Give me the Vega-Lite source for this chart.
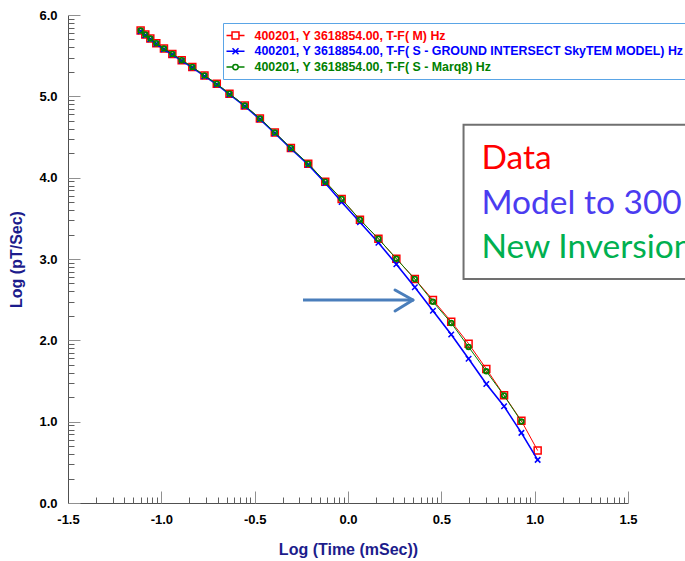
{
  "$schema": "https://vega.github.io/schema/vega-lite/v6.json",
  "width": 560,
  "height": 488,
  "autosize": {"type": "none"},
  "padding": {"left": 68, "top": 15, "right": 57, "bottom": 58},
  "background": "white",
  "config": {"view": {"stroke": null}, "axis": {"grid": false}},
  "data": {
    "values": [
      {"series": "T-F( M)", "t": -1.111, "v": 5.808},
      {"series": "T-F( M)", "t": -1.086, "v": 5.759},
      {"series": "T-F( M)", "t": -1.059, "v": 5.710},
      {"series": "T-F( M)", "t": -1.027, "v": 5.654},
      {"series": "T-F( M)", "t": -0.986, "v": 5.587},
      {"series": "T-F( M)", "t": -0.941, "v": 5.522},
      {"series": "T-F( M)", "t": -0.891, "v": 5.445},
      {"series": "T-F( M)", "t": -0.834, "v": 5.362},
      {"series": "T-F( M)", "t": -0.769, "v": 5.256},
      {"series": "T-F( M)", "t": -0.703, "v": 5.154},
      {"series": "T-F( M)", "t": -0.635, "v": 5.031},
      {"series": "T-F( M)", "t": -0.553, "v": 4.887},
      {"series": "T-F( M)", "t": -0.472, "v": 4.727},
      {"series": "T-F( M)", "t": -0.392, "v": 4.555},
      {"series": "T-F( M)", "t": -0.306, "v": 4.364},
      {"series": "T-F( M)", "t": -0.213, "v": 4.171},
      {"series": "T-F( M)", "t": -0.122, "v": 3.950},
      {"series": "T-F( M)", "t": -0.034, "v": 3.737},
      {"series": "T-F( M)", "t": 0.064, "v": 3.483},
      {"series": "T-F( M)", "t": 0.163, "v": 3.249},
      {"series": "T-F( M)", "t": 0.259, "v": 3.004},
      {"series": "T-F( M)", "t": 0.358, "v": 2.754},
      {"series": "T-F( M)", "t": 0.455, "v": 2.496},
      {"series": "T-F( M)", "t": 0.553, "v": 2.230},
      {"series": "T-F( M)", "t": 0.646, "v": 1.959},
      {"series": "T-F( M)", "t": 0.741, "v": 1.649},
      {"series": "T-F( M)", "t": 0.836, "v": 1.324},
      {"series": "T-F( M)", "t": 0.929, "v": 1.010},
      {"series": "T-F( M)", "t": 1.016, "v": 0.645},
      {"series": "T-F( S - GROUND INTERSECT SkyTEM MODEL)", "t": -1.111, "v": 5.800},
      {"series": "T-F( S - GROUND INTERSECT SkyTEM MODEL)", "t": -1.086, "v": 5.751},
      {"series": "T-F( S - GROUND INTERSECT SkyTEM MODEL)", "t": -1.059, "v": 5.702},
      {"series": "T-F( S - GROUND INTERSECT SkyTEM MODEL)", "t": -1.027, "v": 5.646},
      {"series": "T-F( S - GROUND INTERSECT SkyTEM MODEL)", "t": -0.986, "v": 5.579},
      {"series": "T-F( S - GROUND INTERSECT SkyTEM MODEL)", "t": -0.941, "v": 5.514},
      {"series": "T-F( S - GROUND INTERSECT SkyTEM MODEL)", "t": -0.891, "v": 5.437},
      {"series": "T-F( S - GROUND INTERSECT SkyTEM MODEL)", "t": -0.834, "v": 5.354},
      {"series": "T-F( S - GROUND INTERSECT SkyTEM MODEL)", "t": -0.769, "v": 5.248},
      {"series": "T-F( S - GROUND INTERSECT SkyTEM MODEL)", "t": -0.703, "v": 5.146},
      {"series": "T-F( S - GROUND INTERSECT SkyTEM MODEL)", "t": -0.635, "v": 5.023},
      {"series": "T-F( S - GROUND INTERSECT SkyTEM MODEL)", "t": -0.553, "v": 4.879},
      {"series": "T-F( S - GROUND INTERSECT SkyTEM MODEL)", "t": -0.472, "v": 4.719},
      {"series": "T-F( S - GROUND INTERSECT SkyTEM MODEL)", "t": -0.392, "v": 4.547},
      {"series": "T-F( S - GROUND INTERSECT SkyTEM MODEL)", "t": -0.306, "v": 4.356},
      {"series": "T-F( S - GROUND INTERSECT SkyTEM MODEL)", "t": -0.213, "v": 4.160},
      {"series": "T-F( S - GROUND INTERSECT SkyTEM MODEL)", "t": -0.122, "v": 3.935},
      {"series": "T-F( S - GROUND INTERSECT SkyTEM MODEL)", "t": -0.034, "v": 3.700},
      {"series": "T-F( S - GROUND INTERSECT SkyTEM MODEL)", "t": 0.064, "v": 3.451},
      {"series": "T-F( S - GROUND INTERSECT SkyTEM MODEL)", "t": 0.163, "v": 3.200},
      {"series": "T-F( S - GROUND INTERSECT SkyTEM MODEL)", "t": 0.259, "v": 2.935},
      {"series": "T-F( S - GROUND INTERSECT SkyTEM MODEL)", "t": 0.358, "v": 2.652},
      {"series": "T-F( S - GROUND INTERSECT SkyTEM MODEL)", "t": 0.455, "v": 2.364},
      {"series": "T-F( S - GROUND INTERSECT SkyTEM MODEL)", "t": 0.553, "v": 2.072},
      {"series": "T-F( S - GROUND INTERSECT SkyTEM MODEL)", "t": 0.646, "v": 1.774},
      {"series": "T-F( S - GROUND INTERSECT SkyTEM MODEL)", "t": 0.741, "v": 1.463},
      {"series": "T-F( S - GROUND INTERSECT SkyTEM MODEL)", "t": 0.836, "v": 1.189},
      {"series": "T-F( S - GROUND INTERSECT SkyTEM MODEL)", "t": 0.929, "v": 0.862},
      {"series": "T-F( S - GROUND INTERSECT SkyTEM MODEL)", "t": 1.016, "v": 0.530},
      {"series": "T-F( S - Marq8)", "t": -1.111, "v": 5.808},
      {"series": "T-F( S - Marq8)", "t": -1.086, "v": 5.759},
      {"series": "T-F( S - Marq8)", "t": -1.059, "v": 5.710},
      {"series": "T-F( S - Marq8)", "t": -1.027, "v": 5.654},
      {"series": "T-F( S - Marq8)", "t": -0.986, "v": 5.587},
      {"series": "T-F( S - Marq8)", "t": -0.941, "v": 5.522},
      {"series": "T-F( S - Marq8)", "t": -0.891, "v": 5.445},
      {"series": "T-F( S - Marq8)", "t": -0.834, "v": 5.362},
      {"series": "T-F( S - Marq8)", "t": -0.769, "v": 5.256},
      {"series": "T-F( S - Marq8)", "t": -0.703, "v": 5.154},
      {"series": "T-F( S - Marq8)", "t": -0.635, "v": 5.031},
      {"series": "T-F( S - Marq8)", "t": -0.553, "v": 4.887},
      {"series": "T-F( S - Marq8)", "t": -0.472, "v": 4.727},
      {"series": "T-F( S - Marq8)", "t": -0.392, "v": 4.555},
      {"series": "T-F( S - Marq8)", "t": -0.306, "v": 4.364},
      {"series": "T-F( S - Marq8)", "t": -0.213, "v": 4.171},
      {"series": "T-F( S - Marq8)", "t": -0.122, "v": 3.950},
      {"series": "T-F( S - Marq8)", "t": -0.034, "v": 3.737},
      {"series": "T-F( S - Marq8)", "t": 0.064, "v": 3.483},
      {"series": "T-F( S - Marq8)", "t": 0.163, "v": 3.249},
      {"series": "T-F( S - Marq8)", "t": 0.259, "v": 3.004},
      {"series": "T-F( S - Marq8)", "t": 0.358, "v": 2.754},
      {"series": "T-F( S - Marq8)", "t": 0.455, "v": 2.475},
      {"series": "T-F( S - Marq8)", "t": 0.553, "v": 2.214},
      {"series": "T-F( S - Marq8)", "t": 0.646, "v": 1.919},
      {"series": "T-F( S - Marq8)", "t": 0.741, "v": 1.619},
      {"series": "T-F( S - Marq8)", "t": 0.836, "v": 1.321},
      {"series": "T-F( S - Marq8)", "t": 0.929, "v": 1.001}
    ]
  },
  "layer": [
    {
      "transform": [{"filter": "datum.series === 'T-F( M)'"}],
      "mark": {"type": "line", "strokeWidth": 1, "point": {"shape": "square", "filled": false, "size": 49, "strokeWidth": 1.5}},
      "encoding": {
        "x": {"field": "t", "type": "quantitative", "scale": {"domain": [-1.5, 1.5], "nice": false, "zero": false},
          "axis": {"orient": "bottom", "values": [-1.5, -1, -0.5, 0, 0.5, 1, 1.5], "labelExpr": "(datum.value < 0 ? '-' : '') + format(abs(datum.value), '.1f')", "ticks": false, "domain": true, "domainColor": "#505050", "domainWidth": 1, "labelFont": "Liberation Sans", "labelFontSize": 13, "labelFontWeight": "bold", "labelColor": "black", "labelPadding": 10, "labelFlush": false, "labelOverlap": false, "title": "Log (Time (mSec))", "titleFont": "Liberation Sans", "titleFontSize": 16, "titleFontWeight": "bold", "titleColor": "#1c1c8c", "titlePadding": 15}},
        "y": {"field": "v", "type": "quantitative", "scale": {"domain": [0, 6], "nice": false, "zero": false},
          "axis": {"orient": "left", "values": [0, 1, 2, 3, 4, 5, 6], "format": ".1f", "ticks": false, "domain": true, "domainColor": "#505050", "domainWidth": 1, "labelFont": "Liberation Sans", "labelFontSize": 13, "labelFontWeight": "bold", "labelColor": "black", "labelPadding": 11, "labelFlush": false, "labelOverlap": false, "title": "Log (pT/Sec)", "titleFont": "Liberation Sans", "titleFontSize": 16, "titleFontWeight": "bold", "titleColor": "#1c1c8c", "titlePadding": 14}},
        "color": {"field": "series", "type": "nominal",
          "scale": {"domain": ["T-F( M)", "T-F( S - GROUND INTERSECT SkyTEM MODEL)", "T-F( S - Marq8)"], "range": ["#ff0000", "#0000ff", "#008000"]},
          "legend": {"orient": "none", "legendX": 155, "legendY": 8, "title": null, "direction": "vertical", "padding": 5.5, "rowPadding": 1.8, "labelFont": "Liberation Sans", "labelFontSize": 12.4, "labelFontWeight": "bold", "labelLimit": 600, "labelOffset": 12, "labelExpr": "'400201, Y 3618854.00, ' + datum.label + ' Hz'", "symbolSize": 144, "strokeColor": "#5aa5e6", "fillColor": "white",
            "encode": {
              "labels": {"update": {"fill": {"scale": "color", "field": "value"}}},
              "symbols": {"update": {
                "shape": {"signal": "datum.index === 0 ? 'M-1.5,0H-0.58M0.58,0H1.5M-0.58,-0.58H0.58V0.58H-0.58Z' : datum.index === 1 ? 'M-1.5,0H1.5M-0.5,-0.5L0.5,0.5M-0.5,0.5L0.5,-0.5' : 'M-1.5,0H-0.45M0.45,0H1.5M-0.45,0A0.45,0.45,0,1,0,0.45,0A0.45,0.45,0,1,0,-0.45,0'"},
                "stroke": {"scale": "color", "field": "value"},
                "fill": {"value": "transparent"},
                "strokeWidth": {"value": 1.5},
                "size": {"value": 144}
              }}
            }
          }
        }
      }
    },
    {
      "transform": [{"filter": "datum.series === 'T-F( S - GROUND INTERSECT SkyTEM MODEL)'"}],
      "mark": {"type": "line", "strokeWidth": 1.6, "point": {"shape": "M-1,-1L1,1M-1,1L1,-1", "filled": false, "size": 30, "strokeWidth": 1.5}},
      "encoding": {
        "x": {"field": "t", "type": "quantitative",
          "axis": {"orient": "bottom", "values": [-1.5, -1, -0.5, 0, 0.5, 1, 1.5], "labels": false, "domain": false, "ticks": true, "tickSize": -12, "tickColor": "#909090", "tickWidth": 1, "title": null}},
        "y": {"field": "v", "type": "quantitative",
          "axis": {"orient": "left", "values": [0, 1, 2, 3, 4, 5, 6], "labels": false, "domain": false, "ticks": true, "tickSize": -12, "tickColor": "#909090", "tickWidth": 1, "title": null}},
        "color": {"field": "series", "type": "nominal"}
      }
    },
    {
      "transform": [{"filter": "datum.series === 'T-F( S - Marq8)'"}],
      "mark": {"type": "line", "strokeWidth": 1, "point": {"shape": "circle", "filled": false, "size": 22, "strokeWidth": 1.8}},
      "encoding": {
        "x": {"field": "t", "type": "quantitative",
          "axis": {"orient": "bottom", "values": [-1.3495, -1.2614, -1.199, -1.1505, -1.1109, -1.0774, -1.0485, -1.0229, -0.8495, -0.7614, -0.699, -0.6505, -0.6109, -0.5774, -0.5485, -0.5229, -0.3495, -0.2614, -0.199, -0.1505, -0.1109, -0.0774, -0.0485, -0.0229, 0.1505, 0.2386, 0.301, 0.3495, 0.3891, 0.4226, 0.4515, 0.4771, 0.6505, 0.7386, 0.801, 0.8495, 0.8891, 0.9226, 0.9515, 0.9771, 1.1505, 1.2386, 1.301, 1.3495, 1.3891, 1.4226, 1.4515, 1.4771], "labels": false, "domain": false, "ticks": true, "tickSize": -6, "tickColor": "#606060", "tickWidth": 1, "title": null}},
        "y": {"field": "v", "type": "quantitative",
          "axis": {"orient": "left", "values": [0.301, 0.477, 0.602, 0.699, 0.778, 0.845, 0.903, 0.954, 1.301, 1.477, 1.602, 1.699, 1.778, 1.845, 1.903, 1.954, 2.301, 2.477, 2.602, 2.699, 2.778, 2.845, 2.903, 2.954, 3.301, 3.477, 3.602, 3.699, 3.778, 3.845, 3.903, 3.954, 4.301, 4.477, 4.602, 4.699, 4.778, 4.845, 4.903, 4.954, 5.301, 5.477, 5.602, 5.699, 5.778, 5.845, 5.903, 5.954], "labels": false, "domain": false, "ticks": true, "tickSize": -6, "tickColor": "#606060", "tickWidth": 1, "title": null}},
        "color": {"field": "series", "type": "nominal"}
      }
    },
    {
      "data": {"values": [{}]},
      "mark": {"type": "rect", "fill": "white", "stroke": "#707070", "strokeWidth": 2},
      "encoding": {
        "x": {"datum": 0.619, "type": "quantitative", "axis": null},
        "x2": {"datum": 1.84},
        "y": {"datum": 4.65, "type": "quantitative", "axis": null},
        "y2": {"datum": 2.754}
      }
    },
    {
      "data": {"values": [{}]},
      "mark": {"type": "text", "text": "Data", "font": "Lato", "fontSize": 33.5, "color": "#ff0000", "align": "left", "baseline": "alphabetic"},
      "encoding": {
        "x": {"datum": 0.715, "type": "quantitative", "axis": null},
        "y": {"datum": 4.103, "type": "quantitative", "axis": null}
      }
    },
    {
      "data": {"values": [{}]},
      "mark": {"type": "text", "text": "Model to 300", "font": "Lato", "fontSize": 33.5, "color": "#4b3cf0", "align": "left", "baseline": "alphabetic"},
      "encoding": {
        "x": {"datum": 0.715, "type": "quantitative", "axis": null},
        "y": {"datum": 3.55, "type": "quantitative", "axis": null}
      }
    },
    {
      "data": {"values": [{}]},
      "mark": {"type": "text", "text": "New Inversion", "font": "Lato", "fontSize": 33.5, "color": "#00b050", "align": "left", "baseline": "alphabetic"},
      "encoding": {
        "x": {"datum": 0.715, "type": "quantitative", "axis": null},
        "y": {"datum": 3.009, "type": "quantitative", "axis": null}
      }
    },
    {
      "data": {"values": [{}]},
      "mark": {"type": "rule", "stroke": "#4a7ebb", "strokeWidth": 3},
      "encoding": {
        "x": {"datum": -0.241, "type": "quantitative", "axis": null},
        "x2": {"datum": 0.348},
        "y": {"datum": 2.496, "type": "quantitative", "axis": null},
        "y2": {"datum": 2.496}
      }
    },
    {
      "data": {"values": [{}]},
      "mark": {"type": "rule", "stroke": "#4a7ebb", "strokeWidth": 3, "strokeCap": "round"},
      "encoding": {
        "x": {"datum": 0.252, "type": "quantitative", "axis": null},
        "x2": {"datum": 0.348},
        "y": {"datum": 2.619, "type": "quantitative", "axis": null},
        "y2": {"datum": 2.496}
      }
    },
    {
      "data": {"values": [{}]},
      "mark": {"type": "rule", "stroke": "#4a7ebb", "strokeWidth": 3, "strokeCap": "round"},
      "encoding": {
        "x": {"datum": 0.252, "type": "quantitative", "axis": null},
        "x2": {"datum": 0.348},
        "y": {"datum": 2.361, "type": "quantitative", "axis": null},
        "y2": {"datum": 2.496}
      }
    }
  ],
  "resolve": {"axis": {"x": "independent", "y": "independent"}}
}
